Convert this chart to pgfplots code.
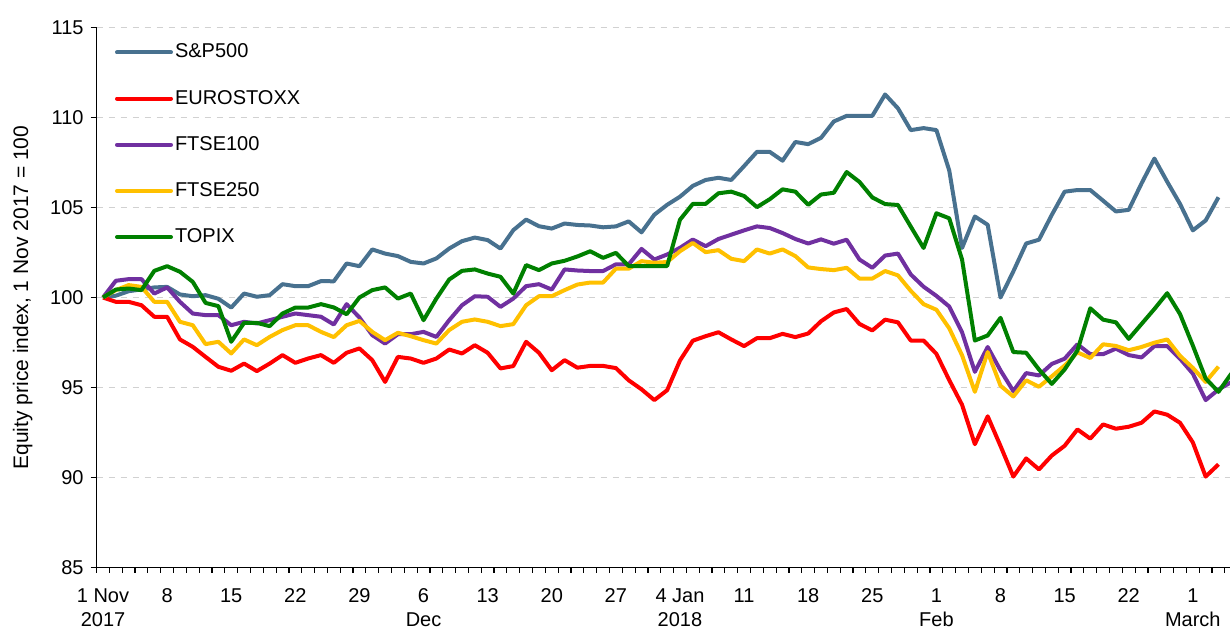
\documentclass[border=0pt]{standalone}
\usepackage{fontspec}
\setmainfont{Liberation Sans}
\usepackage{pgfplots}
\usepackage{pgfplotstable}
\pgfplotsset{compat=1.18}
\definecolor{spblue}{HTML}{48718F}
\definecolor{esred}{HTML}{FF0000}
\definecolor{ftpurple}{HTML}{7030A0}
\definecolor{ftgold}{HTML}{FFC000}
\definecolor{tpgreen}{HTML}{008000}

\pgfplotstableread{
x y
0 100
1 100.1
2 100.35
3 100.45
4 100.56
5 100.59
6 100.17
7 100.07
8 100.13
9 99.93
10 99.44
11 100.22
12 100.04
13 100.13
14 100.74
15 100.63
16 100.63
17 100.91
18 100.9
19 101.89
20 101.74
21 102.67
22 102.44
23 102.30
24 101.98
25 101.89
26 102.17
27 102.72
28 103.13
29 103.33
30 103.19
31 102.72
32 103.74
33 104.33
34 103.96
35 103.83
36 104.11
37 104.03
38 104.0
39 103.9
40 103.95
41 104.23
42 103.62
43 104.6
44 105.15
45 105.6
46 106.2
47 106.53
48 106.65
49 106.53
50 107.3
51 108.09
52 108.09
53 107.6
54 108.64
55 108.52
56 108.87
57 109.78
58 110.09
59 110.09
60 110.09
61 111.28
62 110.51
63 109.3
64 109.41
65 109.3
66 107.06
67 102.75
68 104.5
69 104.04
70 100.0
71 101.45
72 103.0
73 103.21
74 104.59
75 105.88
76 105.97
77 105.97
78 105.38
79 104.78
80 104.87
81 106.34
82 107.72
83 106.43
84 105.2
85 103.73
86 104.28
87 105.57
}\spx

\pgfplotstableread{
x y
0 100
1 99.76
2 99.76
3 99.57
4 98.93
5 98.93
6 97.67
7 97.26
8 96.7
9 96.15
10 95.93
11 96.33
12 95.91
13 96.33
14 96.8
15 96.37
16 96.61
17 96.8
18 96.37
19 96.93
20 97.17
21 96.52
22 95.31
23 96.7
24 96.61
25 96.37
26 96.61
27 97.11
28 96.89
29 97.35
30 96.93
31 96.06
32 96.19
33 97.54
34 96.93
35 95.96
36 96.52
37 96.1
38 96.2
39 96.2
40 96.08
41 95.4
42 94.9
43 94.3
44 94.85
45 96.5
46 97.6
47 97.85
48 98.07
49 97.67
50 97.3
51 97.74
52 97.74
53 97.98
54 97.8
55 98.0
56 98.68
57 99.17
58 99.36
59 98.53
60 98.17
61 98.77
62 98.62
63 97.61
64 97.61
65 96.87
66 95.41
67 94.04
68 91.85
69 93.4
70 91.75
71 90.05
72 91.06
73 90.45
74 91.22
75 91.76
76 92.67
77 92.16
78 92.95
79 92.71
80 92.82
81 93.04
82 93.67
83 93.49
84 93.04
85 91.95
86 90.05
87 90.73
}\esx

\pgfplotstableread{
x y
0 100
1 100.93
2 101.02
3 101.02
4 100.22
5 100.56
6 99.76
7 99.11
8 99.02
9 99.02
10 98.46
11 98.65
12 98.56
13 98.74
14 98.93
15 99.11
16 99.02
17 98.93
18 98.5
19 99.63
20 98.89
21 97.91
22 97.44
23 97.96
24 97.96
25 98.09
26 97.81
27 98.74
28 99.57
29 100.07
30 100.04
31 99.48
32 99.94
33 100.63
34 100.74
35 100.44
36 101.56
37 101.5
38 101.47
39 101.47
40 101.84
41 101.84
42 102.7
43 102.11
44 102.39
45 102.76
46 103.22
47 102.85
48 103.25
49 103.49
50 103.73
51 103.95
52 103.86
53 103.58
54 103.25
55 103.0
56 103.23
57 102.99
58 103.21
59 102.11
60 101.65
61 102.33
62 102.44
63 101.28
64 100.6
65 100.09
66 99.5
67 98.07
68 95.87
69 97.25
70 95.95
71 94.8
72 95.8
73 95.67
74 96.31
75 96.6
76 97.4
77 96.85
78 96.85
79 97.16
80 96.8
81 96.67
82 97.3
83 97.3
84 96.6
85 95.77
86 94.3
87 94.89
88 95.3
}\ftax

\pgfplotstableread{
x y
0 100
1 100.41
2 100.69
3 100.59
4 99.76
5 99.76
6 98.65
7 98.46
8 97.41
9 97.54
10 96.89
11 97.67
12 97.35
13 97.81
14 98.19
15 98.46
16 98.46
17 98.09
18 97.8
19 98.46
20 98.7
21 98.09
22 97.63
23 98.04
24 97.85
25 97.63
26 97.44
27 98.19
28 98.65
29 98.78
30 98.65
31 98.41
32 98.52
33 99.57
34 100.07
35 100.07
36 100.41
37 100.72
38 100.83
39 100.83
40 101.6
41 101.6
42 102.02
43 101.93
44 101.97
45 102.57
46 103.03
47 102.52
48 102.63
49 102.15
50 102.02
51 102.67
52 102.44
53 102.67
54 102.3
55 101.67
56 101.58
57 101.52
58 101.65
59 101.05
60 101.05
61 101.47
62 101.23
63 100.37
64 99.63
65 99.32
66 98.29
67 96.79
68 94.76
69 96.97
70 95.1
71 94.5
72 95.4
73 95.04
74 95.62
75 96.22
76 96.95
77 96.64
78 97.4
79 97.31
80 97.07
81 97.25
82 97.49
83 97.67
84 96.76
85 96.09
86 95.31
87 96.16
}\ftmid

\pgfplotstableread{
x y
0 100
1 100.44
2 100.5
3 100.41
4 101.48
5 101.74
6 101.43
7 100.87
8 99.7
9 99.52
10 97.54
11 98.59
12 98.59
13 98.41
14 99.11
15 99.44
16 99.44
17 99.63
18 99.45
19 99.07
20 100.0
21 100.41
22 100.56
23 99.94
24 100.22
25 98.74
26 99.94
27 101.0
28 101.48
29 101.56
30 101.33
31 101.15
32 100.22
33 101.8
34 101.52
35 101.89
36 102.04
37 102.28
38 102.57
39 102.2
40 102.48
41 101.75
42 101.75
43 101.75
44 101.75
45 104.32
46 105.2
47 105.2
48 105.79
49 105.88
50 105.64
51 105.02
52 105.46
53 106.01
54 105.88
55 105.15
56 105.72
57 105.82
58 106.97
59 106.42
60 105.56
61 105.19
62 105.14
63 103.94
64 102.75
65 104.68
66 104.4
67 102.11
68 97.61
69 97.89
70 98.87
71 96.97
72 96.93
73 96.0
74 95.2
75 96.0
76 97.06
77 99.4
78 98.77
79 98.62
80 97.7
81 98.53
82 99.36
83 100.24
84 99.08
85 97.33
86 95.5
87 94.76
88 95.77
}\topix

\begin{document}
\begin{tikzpicture}
\begin{axis}[
  width=566.7pt, height=270pt, scale only axis,
  xmin=-0.5, xmax=87.9, ymin=85, ymax=115,
  axis lines*=left,
  axis line style={black, line width=0.8pt},
  ytick={85,90,...,115},
  ymajorgrids,
  grid style={dashed, color=black!18, line width=0.7pt},
  tick align=outside,
  major tick length=3pt,
  minor tick length=2.5pt,
  tick style={black, line width=0.6pt},
  /pgf/number format/assume math mode=true,
  xtick={0,5,...,85},
  xticklabels={{1 Nov\\2017},8,15,22,29,{6\\Dec},13,20,27,{4 Jan\\2018},11,18,25,{1\\Feb},8,15,22,{1\\March}},
  major x tick style={draw=none},
  minor xtick={-0.5,0.5,...,87.5},
  xticklabel style={align=center, font=\fontsize{10}{12}\selectfont, yshift=-4pt},
  yticklabel style={font=\fontsize{10}{12}\selectfont},
  ylabel={Equity price index, 1 Nov 2017 = 100},
  every axis y label/.style={at={(axis description cs:-0.0653,0.5)}, rotate=90, anchor=center,
    font=\fontsize{10.5}{12}\selectfont},
  legend style={at={(0,1)}, anchor=north west, xshift=9pt, yshift=-7pt, draw=none, fill=none,
    font=\fontsize{10}{12}\selectfont, row sep=12.6pt, inner sep=0pt,
    nodes={inner sep=1pt}},
  legend cell align=left,
  legend image code/.code={\draw[#1, line cap=round] (0pt,0pt) -- (27pt,0pt);},
  every axis plot/.append style={line width=2pt, line join=round},
  clip=true,
]
\addplot[spblue] table[x=x,y=y] {\spx};
\addlegendentry{S\&P500}
\addplot[esred] table[x=x,y=y] {\esx};
\addlegendentry{EUROSTOXX}
\addplot[ftpurple] table[x=x,y=y] {\ftax};
\addlegendentry{FTSE100}
\addplot[ftgold] table[x=x,y=y] {\ftmid};
\addlegendentry{FTSE250}
\addplot[tpgreen] table[x=x,y=y] {\topix};
\addlegendentry{TOPIX}
\end{axis}
\pgfresetboundingbox
\path[use as bounding box] (-48.3pt,-32.25pt) rectangle (566.7pt,283.75pt);
\end{tikzpicture}
\end{document}
